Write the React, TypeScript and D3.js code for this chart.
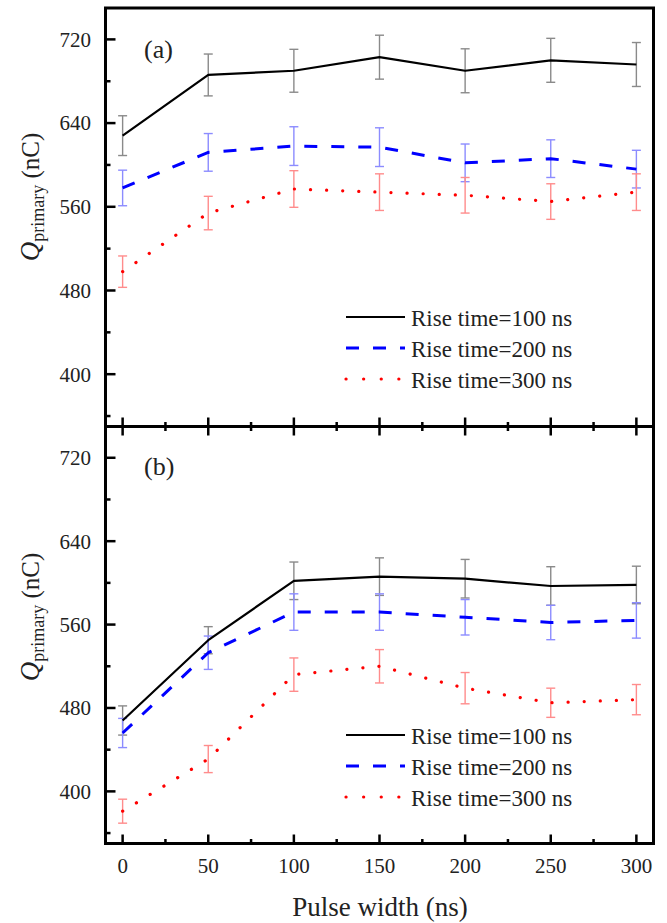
import React from "react";
import * as d3 from "d3";

const pulseWidths = [0, 50, 100, 150, 200, 250, 300];
const seriesLabels = ["Rise time=100 ns", "Rise time=200 ns", "Rise time=300 ns"];
const xTicks = [0, 50, 100, 150, 200, 250, 300];
const yTicks = [400, 480, 560, 640, 720];

const a100 = [628, 686, 690, 703, 690, 700, 696];
const a100Err = [19, 20, 20.5, 21, 21, 21, 21];
const a200 = [578, 612, 618, 617, 602, 606, 596];
const a200Err = [17, 18, 18.5, 18.5, 18, 18, 18];
const a300 = [498, 554, 577, 574, 571, 565, 574];
const a300Err = [15, 16, 17.5, 17.5, 17, 17, 17.5];

const b100 = [468, 545, 602, 606, 604, 597, 598];
const b100Err = [14, 13, 18, 18, 18.5, 18.5, 18];
const b200 = [456, 533, 572, 572, 567, 562, 564];
const b200Err = [14, 16, 17.5, 17.5, 17, 16.5, 17];
const b300 = [381, 431, 512, 520, 499, 485, 488];
const b300Err = [11.5, 13, 16, 16, 15, 14, 14.5];

const styles = [
  { color: "#000000", err: "#8a8a8a", dash: undefined as string | undefined, width: 2.2, cap: "butt" },
  { color: "#0000ff", err: "#8c8cff", dash: "13 14", width: 3, cap: "butt" },
  { color: "#ff0000", err: "#ff8c8c", dash: "0.1 16", width: 3.2, cap: "round" },
];

const FONT = "Liberation Serif, DejaVu Serif, serif";
const X0 = 105.5, X1 = 653.5;
const x = d3.scaleLinear().domain([-10, 310]).range([X0, X1]);

type Panel = {
  top: number; bottom: number; label: string; labelY: number; legendY: number;
  series: number[][]; errs: number[][]; showX: boolean; titleY: number;
};

const panels: Panel[] = [
  { top: 8, bottom: 426.5, label: "(a)", labelY: 58, legendY: 317, series: [a100, a200, a300], errs: [a100Err, a200Err, a300Err], showX: false, titleY: 197 },
  { top: 426.5, bottom: 843.5, label: "(b)", labelY: 475, legendY: 735, series: [b100, b200, b300], errs: [b100Err, b200Err, b300Err], showX: true, titleY: 617 },
];

function PanelView({ p }: { p: Panel }) {
  const y = d3.scaleLinear().domain([350, 750]).range([p.bottom, p.top]);
  const minorY = d3.range(360, 750, 40).filter((v) => !yTicks.includes(v));
  const minorX = d3.range(25, 300, 50);
  const line = d3.line<number>().x((_, i) => x(pulseWidths[i])).y((v) => y(v));
  return (
    <g>
      {yTicks.map((t) => (
        <g key={"yt" + t}>
          <line x1={X0} x2={X0 + 10} y1={y(t)} y2={y(t)} stroke="#000" strokeWidth={2.5} />
          <text x={91} y={y(t)} dy="0.35em" textAnchor="end" style={{ fontFamily: FONT }} fontSize={21} fill="#222">{t}</text>
        </g>
      ))}
      {minorY.map((t) => (
        <line key={"ym" + t} x1={X0} x2={X0 + 5} y1={y(t)} y2={y(t)} stroke="#000" strokeWidth={2.5} />
      ))}
      {xTicks.map((t) => (
        <line key={"xb" + t} x1={x(t)} x2={x(t)} y1={p.bottom} y2={p.bottom - 9} stroke="#000" strokeWidth={2.5} />
      ))}
      {minorX.map((t) => (
        <line key={"xbm" + t} x1={x(t)} x2={x(t)} y1={p.bottom} y2={p.bottom - 4.5} stroke="#000" strokeWidth={2.5} />
      ))}
      {p.showX && xTicks.map((t) => (
        <line key={"xt" + t} x1={x(t)} x2={x(t)} y1={p.top} y2={p.top + 9} stroke="#000" strokeWidth={2.5} />
      ))}
      {p.showX && minorX.map((t) => (
        <line key={"xtm" + t} x1={x(t)} x2={x(t)} y1={p.top} y2={p.top + 4.5} stroke="#000" strokeWidth={2.5} />
      ))}
      {p.showX && xTicks.map((t) => (
        <text key={"xl" + t} x={x(t)} y={873} textAnchor="middle" style={{ fontFamily: FONT }} fontSize={21} fill="#222">{t}</text>
      ))}
      {p.series.map((s, si) => (
        <g key={"e" + si} stroke={styles[si].err} strokeWidth={1.4} fill="none">
          {s.map((v, i) => {
            const cx = x(pulseWidths[i]);
            const e = p.errs[si][i];
            return (
              <g key={i}>
                <line x1={cx} x2={cx} y1={y(v - e)} y2={y(v + e)} />
                <line x1={cx - 4.5} x2={cx + 4.5} y1={y(v + e)} y2={y(v + e)} />
                <line x1={cx - 4.5} x2={cx + 4.5} y1={y(v - e)} y2={y(v - e)} />
              </g>
            );
          })}
        </g>
      ))}
      {p.series.map((s, si) => (
        <path key={"l" + si} d={line(s) || ""} fill="none" stroke={styles[si].color}
          strokeWidth={styles[si].width} strokeDasharray={styles[si].dash}
          strokeLinecap={styles[si].cap as any} strokeLinejoin="round" />
      ))}
      <text x={144} y={p.labelY} style={{ fontFamily: FONT }} fontSize={26} fill="#222">{p.label}</text>
      {seriesLabels.map((lab, i) => {
        const ly = p.legendY + i * 31;
        return (
          <g key={"lg" + i}>
            <line x1={346} x2={405} y1={ly} y2={ly} stroke={styles[i].color} strokeWidth={styles[i].width}
              strokeDasharray={i === 2 ? "0.1 17.5" : styles[i].dash} strokeLinecap={styles[i].cap as any} />
            <text x={411} y={ly + 9} style={{ fontFamily: FONT }} fontSize={23} fill="#222">{lab}</text>
          </g>
        );
      })}
      <text transform={`translate(39,${p.titleY}) rotate(-90)`} textAnchor="middle" style={{ fontFamily: FONT }} fill="#222">
        <tspan fontStyle="italic" fontSize={27}>Q</tspan>
        <tspan fontSize={18} dy={5}>primary</tspan>
        <tspan fontSize={25} dy={-5}> (nC)</tspan>
      </text>
    </g>
  );
}

export default function App() {
  return (
    <svg width={667} height={923} style={{ position: "absolute", left: 0, top: 0, background: "#fff" }}>
      <rect x={0} y={0} width={667} height={923} fill="#fff" />
      {panels.map((p, i) => <PanelView key={i} p={p} />)}
      {panels.map((p, i) => (
        <rect key={"f" + i} x={X0} y={p.top} width={X1 - X0} height={p.bottom - p.top} fill="none" stroke="#000" strokeWidth={3} />
      ))}
      <text x={380} y={916} textAnchor="middle" style={{ fontFamily: FONT }} fontSize={27} fill="#222">Pulse width (ns)</text>
    </svg>
  );
}
